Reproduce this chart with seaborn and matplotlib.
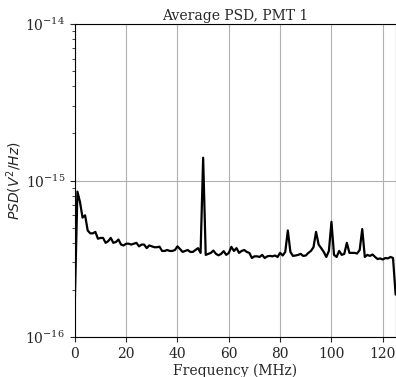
import numpy as np
import pandas as pd
import matplotlib
matplotlib.use("Agg")
import matplotlib.pyplot as plt
import matplotlib.ticker as mticker
import seaborn as sns

# Frequency axis (MHz) and PSD values (units of 1e-16 V^2/Hz)
freq_mhz = list(range(0, 126))
psd_e16 = [
    1.7, 8.5, 7.3, 5.8, 6.0, 4.8, 4.6, 4.6, 4.7, 4.25,
    4.3, 4.3, 4.0, 4.1, 4.3, 4.0, 4.05, 4.2, 3.9, 3.85,
    3.95, 3.95, 3.9, 3.95, 4.0, 3.8, 3.9, 3.9, 3.7, 3.85,
    3.8, 3.75, 3.75, 3.78, 3.55, 3.55, 3.6, 3.55, 3.55, 3.6,
    3.8, 3.65, 3.5, 3.55, 3.6, 3.5, 3.5, 3.6, 3.7, 3.45,
    14.0, 3.35, 3.4, 3.45, 3.57, 3.4, 3.33, 3.4, 3.54, 3.35,
    3.45, 3.77, 3.55, 3.7, 3.45, 3.55, 3.6, 3.5, 3.45, 3.2,
    3.28, 3.28, 3.25, 3.35, 3.2, 3.28, 3.3, 3.28, 3.32, 3.25,
    3.45, 3.32, 3.5, 4.8, 3.5, 3.3, 3.32, 3.35, 3.4, 3.3,
    3.32, 3.45, 3.55, 3.75, 4.7, 3.9, 3.7, 3.5, 3.25, 3.55,
    5.45, 3.35, 3.25, 3.55, 3.35, 3.4, 4.0, 3.45, 3.45, 3.45,
    3.42, 3.6, 4.9, 3.25, 3.35, 3.3, 3.37, 3.25, 3.15, 3.18,
    3.13, 3.2, 3.18, 3.25, 3.2, 1.87,
]
y_major_ticks = [1e-16, 1e-15, 1e-14]
x_ticks = [0, 20, 40, 60, 80, 100, 120]

title = "Average PSD, PMT 1"
xlabel = "Frequency (MHz)"
ylabel = r"$PSD (V^2/Hz)$"

df = pd.DataFrame({"freq": freq_mhz, "psd": np.array(psd_e16) * 1e-16})

sns.set_style("ticks")
plt.rcParams["font.family"] = ["DejaVu Serif"]

fig = plt.figure(figsize=(3.96, 3.77), dpi=100)
ax = fig.add_axes([0.189, 0.106, 0.81, 0.83])

sns.lineplot(data=df, x="freq", y="psd", color="black", linewidth=1.6, ax=ax)
ax.set_yscale("log")
ax.set_ylim(1e-16, 1e-14)
ax.set_xlim(0, 125)
ax.set_xticks(x_ticks)
ax.yaxis.set_major_locator(mticker.FixedLocator(y_major_ticks))
ax.yaxis.set_minor_locator(mticker.LogLocator(base=10, subs=np.arange(2, 10)))
ax.yaxis.set_minor_formatter(mticker.NullFormatter())
ax.grid(True, which="major", color="#b0b0b0", linewidth=0.8)
ax.set_axisbelow(True)

ax.set_title(title, fontsize=10, pad=3)
ax.set_xlabel(xlabel, fontsize=10, labelpad=2)
ax.set_ylabel(ylabel, fontsize=10, labelpad=1)
ax.tick_params(axis="both", which="major", labelsize=10, length=3.5, width=0.8, direction="out")
ax.tick_params(axis="y", which="minor", length=2, width=0.6)
for s in ax.spines.values():
    s.set_linewidth(0.8)
    s.set_color("black")

fig.savefig("out.png", dpi=100)
